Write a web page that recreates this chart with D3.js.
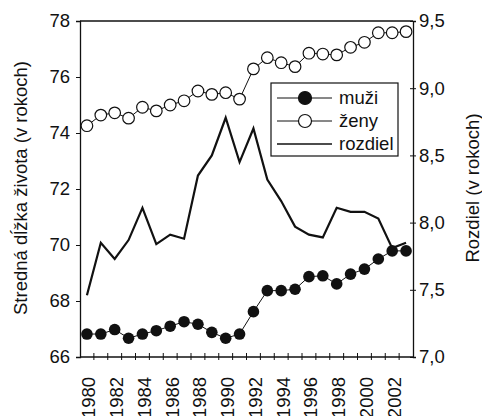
<!DOCTYPE html>
<html>
<head>
<meta charset="utf-8">
<script src="https://cdn.jsdelivr.net/npm/d3@7"></script>
<style>
  html, body { margin: 0; padding: 0; background: #fff; }
  svg { display: block; }
  text { font-family: "Liberation Sans", Arial, sans-serif; fill: #111; }
</style>
</head>
<body>
<svg id="chart" width="482" height="416"></svg>
<script>
const years = d3.range(1980, 2004);
const tickYears = [1980,1982,1984,1986,1988,1990,1992,1994,1996,1998,2000,2002];
const muzi = [66.82,66.82,66.98,66.67,66.82,66.94,67.10,67.26,67.17,66.88,66.67,66.82,67.62,68.37,68.37,68.42,68.87,68.90,68.61,68.96,69.14,69.50,69.79,69.79];
const zeny = [74.26,74.64,74.72,74.53,74.92,74.79,75.00,75.15,75.50,75.38,75.44,75.21,76.29,76.69,76.51,76.37,76.85,76.82,76.79,77.06,77.24,77.58,77.58,77.62];
const rozdiel = [7.46,7.85,7.73,7.87,8.11,7.84,7.91,7.88,8.35,8.50,8.78,8.45,8.70,8.32,8.16,7.97,7.91,7.89,8.11,8.08,8.08,8.03,7.81,7.85];
const leftTicks = [66,68,70,72,74,76,78];
const rightTicks = [7.0,7.5,8.0,8.5,9.0,9.5];
const legendLabels = ["muži","ženy","rozdiel"];

const svg = d3.select("#chart");
const L = 80, R = 413, T = 21, B = 357;
const FS = 18.5;
const x = d3.scaleBand().domain(years).range([L, R]);
const yL = d3.scaleLinear().domain([66, 78]).range([B, T]);
const yR = d3.scaleLinear().domain([7.0, 9.5]).range([B, T]);
const cx = d => x(d) + x.bandwidth() / 2;
const fmt = d3.format(".1f");

// frame top line
svg.append("line").attr("x1", L).attr("x2", R).attr("y1", T).attr("y2", T)
  .attr("stroke", "#111").attr("stroke-width", 1.3);

// left axis
const gL = svg.append("g").attr("transform", `translate(${L},0)`)
  .call(d3.axisLeft(yL).tickValues(leftTicks).tickSize(4).tickPadding(6));

// right axis
const gR = svg.append("g").attr("transform", `translate(${R},0)`)
  .call(d3.axisRight(yR).tickValues(rightTicks).tickSize(3).tickPadding(3).tickFormat(d => fmt(d).replace(".", ",")));
gR.selectAll(".tick line").attr("x1", -3);

[gL, gR].forEach(g => {
  g.select(".domain").attr("stroke", "#111").attr("stroke-width", 1.3);
  g.selectAll(".tick line").attr("stroke", "#111");
  g.selectAll("text").attr("fill", "#111").attr("font-family", null).attr("font-size", FS);
});

// bottom axis: ticks at band boundaries
const gB = svg.append("g").attr("transform", `translate(0,${B})`);
gB.append("line").attr("x1", L).attr("x2", R).attr("stroke", "#111").attr("stroke-width", 1.3);
gB.selectAll("line.tk").data(years.slice(1)).join("line").attr("class", "tk")
  .attr("x1", d => x(d)).attr("x2", d => x(d)).attr("y1", -4).attr("y2", 3)
  .attr("stroke", "#111").attr("stroke-width", 1);
gB.selectAll("text").data(tickYears).join("text")
  .attr("transform", d => `translate(${cx(d) + 2},20) rotate(-90)`)
  .attr("text-anchor", "end").attr("dy", "0.35em").attr("font-size", FS)
  .text(d => d);

// axis titles
svg.append("text").attr("transform", `translate(21,188) rotate(-90)`)
  .attr("text-anchor", "middle").attr("dy", "0.35em").attr("font-size", FS)
  .text("Stredná dĺžka života (v rokoch)");
svg.append("text").attr("transform", `translate(473,188) rotate(-90)`)
  .attr("text-anchor", "middle").attr("dy", "0.35em").attr("font-size", FS)
  .text("Rozdiel (v rokoch)");

// series
const lineL = d3.line().x((d, i) => cx(years[i])).y(d => yL(d));
const lineR = d3.line().x((d, i) => cx(years[i])).y(d => yR(d));

svg.append("path").attr("d", lineL(muzi)).attr("fill", "none").attr("stroke", "#111").attr("stroke-width", 1);
svg.selectAll("circle.m").data(muzi).join("circle").attr("class", "m")
  .attr("cx", (d, i) => cx(years[i])).attr("cy", d => yL(d)).attr("r", 5.8)
  .attr("fill", "#111");

svg.append("path").attr("d", lineL(zeny)).attr("fill", "none").attr("stroke", "#111").attr("stroke-width", 1);
svg.selectAll("circle.z").data(zeny).join("circle").attr("class", "z")
  .attr("cx", (d, i) => cx(years[i])).attr("cy", d => yL(d)).attr("r", 5.8)
  .attr("fill", "#fff").attr("stroke", "#111").attr("stroke-width", 1.2);

svg.append("path").attr("d", lineR(rozdiel)).attr("fill", "none").attr("stroke", "#111")
  .attr("stroke-width", 2.2).attr("stroke-linejoin", "miter");

// legend
const lg = svg.append("g");
lg.append("rect").attr("x", 271).attr("y", 83).attr("width", 127).attr("height", 73)
  .attr("fill", "#fff").attr("stroke", "#111").attr("stroke-width", 1.2);
const rows = lg.selectAll("g.row").data(legendLabels).join("g").attr("class", "row")
  .attr("transform", (d, i) => `translate(0,${98 + i * 23})`);
rows.append("line").attr("x1", 277).attr("x2", 332).attr("stroke", "#111")
  .attr("stroke-width", (d, i) => i === 2 ? 1.3 : 1);
rows.filter((d, i) => i < 2).append("circle").attr("cx", 305).attr("r", 6.5)
  .attr("fill", (d, i) => i === 0 ? "#111" : "#fff").attr("stroke", "#111").attr("stroke-width", 1.2);
rows.append("text").attr("x", 339).attr("dy", "0.35em").attr("font-size", FS).text(d => d);
</script>
</body>
</html>
